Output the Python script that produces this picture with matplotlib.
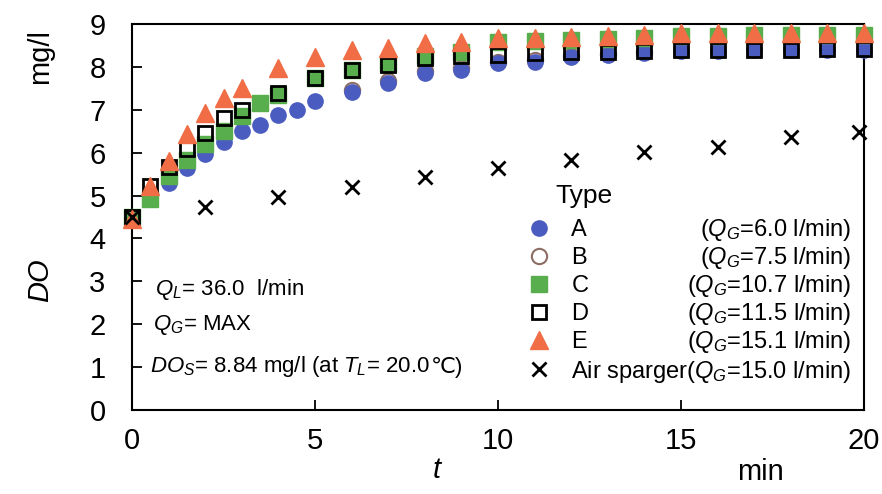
import matplotlib
matplotlib.use("Agg")
import matplotlib.pyplot as plt

FAM = ["Liberation Sans", "DejaVu Sans"]
plt.rcParams["font.family"] = FAM
plt.rcParams["mathtext.fontset"] = "custom"
plt.rcParams["mathtext.rm"] = "Liberation Sans"
plt.rcParams["mathtext.it"] = "Liberation Sans:italic"

# ---- data (t in min, DO in mg/l) ----
t_a = [0, 0.5, 1, 1.5, 2, 2.5, 3, 3.5, 4, 4.5, 5, 6, 7, 8, 9, 10, 11, 12, 13, 14, 15, 16, 17, 18, 19, 20]
do_a = [4.5, 4.95, 5.29, 5.64, 5.96, 6.24, 6.5, 6.64, 6.88, 7.0, 7.2, 7.42, 7.63, 7.85, 7.93,
        8.08, 8.12, 8.22, 8.27, 8.32, 8.36, 8.38, 8.39, 8.4, 8.4, 8.4]
t_b = [6, 7, 8, 9, 10, 11, 12, 13, 14]
do_b = [7.47, 7.68, 7.9, 7.98, 8.12, 8.16, 8.25, 8.3, 8.34]
t_c = [0, 0.5, 1, 1.5, 2, 2.5, 3, 3.5, 4, 5, 6, 7, 8, 9, 10, 11, 12, 13, 14, 15, 16, 17, 18, 19, 20]
do_c = [4.5, 4.92, 5.45, 5.82, 6.2, 6.5, 6.86, 7.15, 7.35, 7.74, 7.93, 8.06, 8.25, 8.35,
        8.58, 8.6, 8.63, 8.65, 8.68, 8.72, 8.72, 8.74, 8.74, 8.74, 8.74]
t_d = [0, 0.5, 1, 1.5, 2, 2.5, 3, 4, 5, 6, 7, 8, 9, 10, 11, 12, 13, 14, 15, 16, 17, 18, 19, 20]
do_d = [4.5, 5.22, 5.66, 6.08, 6.45, 6.8, 7.0, 7.38, 7.74, 7.93, 8.04, 8.2, 8.25,
        8.28, 8.32, 8.35, 8.35, 8.36, 8.39, 8.4, 8.4, 8.4, 8.42, 8.42]
t_e = [0, 0.5, 1, 1.5, 2, 2.5, 3, 4, 5, 6, 7, 8, 9, 10, 11, 12, 13, 14, 15, 16, 17, 18, 19, 20]
do_e = [4.45, 5.22, 5.81, 6.44, 6.92, 7.27, 7.5, 7.97, 8.23, 8.39, 8.43, 8.55, 8.58,
        8.67, 8.67, 8.7, 8.72, 8.74, 8.79, 8.79, 8.8, 8.8, 8.8, 8.8]
t_air = [0, 2, 4, 6, 8, 10, 12, 14, 16, 18, 19.85]
do_air = [4.5, 4.73, 4.97, 5.2, 5.44, 5.64, 5.83, 6.02, 6.14, 6.37, 6.49]

qg = ["6.0", "7.5", "10.7", "11.5", "15.1", "15.0"]

fig = plt.figure(figsize=(8.82, 4.94), dpi=100)
ax = fig.add_axes([132 / 882, 1 - 410 / 494, 732 / 882, 386 / 494])

hb, = ax.plot(t_b, do_b, "o", ms=11, mfc="white", mec="#8c6e64", mew=1.5, zorder=2, label="B", clip_on=False)
ha, = ax.plot(t_a, do_a, "o", ms=11, mfc="#4b5cc0", mec="#4b5cc0", zorder=3, label="A", clip_on=False)
hc, = ax.plot(t_c, do_c, "s", ms=12, mfc="#58ad4c", mec="#58ad4c", zorder=4, label="C", clip_on=False)
hd, = ax.plot(t_d, do_d, "s", ms=10, mfc="none", mec="black", mew=2.0, zorder=5, label="D", clip_on=False)
he, = ax.plot(t_e, do_e, "^", ms=13, mfc="#f06d45", mec="#f06d45", zorder=6, label="E", clip_on=False)
hx, = ax.plot(t_air, do_air, "x", ms=10, mec="black", mew=2.0, zorder=6, clip_on=False,
              label="Air sparger($Q_G$=" + qg[5] + " l/min)")

ax.set_xlim(0, 20)
ax.set_ylim(0, 9)
ax.set_xticks([0, 5, 10, 15, 20])
ax.set_yticks(range(10))
ax.tick_params(direction="in", length=7, width=1.3, labelsize=21, top=False, right=False)
ax.tick_params(axis="y", pad=19)
ax.tick_params(axis="x", pad=12)
for s in ax.spines.values():
    s.set_linewidth(1.5)

fig.text(40 / 882, 1 - 57 / 494, "mg/l", rotation=90, fontsize=21, ha="center", va="center")
fig.text(40 / 882, 1 - 280 / 494, "DO", rotation=90, fontsize=21, style="italic", ha="center", va="center")
fig.text(437 / 882, 1 - 470 / 494, "t", fontsize=21, style="italic", ha="center", va="center")
fig.text(760 / 882, 1 - 472 / 494, "min", fontsize=21, ha="center", va="center")
fig.text(555 / 882, 1 - 203 / 494, "Type", fontsize=19, ha="left", va="baseline")

ax.text(0.63, 2.68, r"$Q_L$= 36.0  l/min", fontsize=16)
ax.text(0.58, 1.86, r"$Q_G$= MAX", fontsize=16)
dos = ax.text(0.5, 0.89, r"$DO_S$= 8.84 mg/l (at $T_L$= 20.0 ", fontsize=16)

leg = ax.legend(handles=[ha, hb, hc, hd, he, hx], loc="upper left", bbox_to_anchor=(0.526, 0.525),
                frameon=False, borderpad=0, handlelength=0.9, handletextpad=0.9, labelspacing=0.25,
                fontsize=17)

fig.canvas.draw()
r = fig.canvas.get_renderer()

# degree-Celsius sign after the DO_S line (plain text so DejaVu can supply the glyph)
bb = dos.get_window_extent(r)
_, _, d16 = r.get_text_width_height_descent("lp", dos.get_fontproperties(), ismath=False)
fig.text(bb.x1, bb.y0 + d16 + 1, "℃)", fontsize=16, ha="left", va="baseline", transform=None)

texts = leg.get_texts()
right = texts[-1].get_window_extent(r).x1
_, _, desc = r.get_text_width_height_descent("lp", texts[0].get_fontproperties(), ismath=False)
for tx, q in zip(texts[:-1], qg[:-1]):
    bb = tx.get_window_extent(r)
    fig.text(right, bb.y0 + desc, "($Q_G$=" + q + " l/min)", fontsize=17, ha="right", va="baseline",
             transform=None)

fig.savefig("out.png", dpi=100)
